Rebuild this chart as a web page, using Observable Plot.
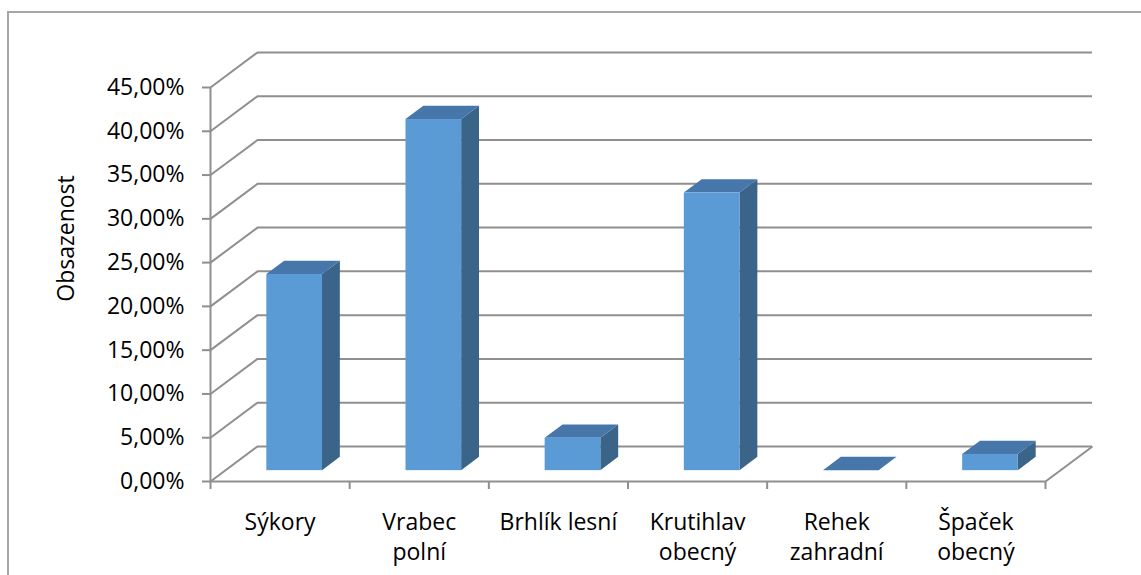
<!DOCTYPE html>
<html>
<head>
<meta charset="utf-8">
<script src="https://cdn.jsdelivr.net/npm/d3@7"></script>
<script src="https://cdn.jsdelivr.net/npm/@observablehq/plot@0.6"></script>
<style>
  html, body { margin: 0; padding: 0; background: #fff; }
  #wrap { position: relative; width: 1141px; height: 575px; overflow: hidden; }
  #border { position: absolute; left: 7px; top: 11px; right: -10px; bottom: -10px;
            border-left: 2px solid #a6a6a6; border-top: 2px solid #a6a6a6; pointer-events: none; }
</style>
</head>
<body>
<div id="wrap"><div id="border"></div></div>
<script>
// Data
const categories = ["Sýkory", "Vrabec polní", "Brhlík lesní", "Krutihlav obecný", "Rehek zahradní", "Špaček obecný"];
const categoryLabels = ["Sýkory", "Vrabec\npolní", "Brhlík lesní", "Krutihlav\nobecný", "Rehek\nzahradní", "Špaček\nobecný"];
const values = [22.4, 40.1, 3.7, 31.7, 0, 1.85];
const yTicks = [0, 5, 10, 15, 20, 25, 30, 35, 40, 45];
const yTitle = "Obsazenost";

// 3D geometry (in scale units)
const D = 0.3377;   // depth offset along x (category units)
const DY = 4.0;     // depth offset along y (percent units)
const f1 = 0.31, f2 = 0.69; // bar front / back depth fraction
const hw = 0.2;     // bar half width

const bars = categories.map((c, i) => ({c, i, v: values[i], cx: i + 0.5}));

const sidePts = bars.flatMap(b => [
  {z: b.c, x: b.cx + hw + f1 * D, y1: f1 * DY, y2: b.v + f1 * DY},
  {z: b.c, x: b.cx + hw + f2 * D, y1: f2 * DY, y2: b.v + f2 * DY}
]);
const topPts = bars.flatMap(b => [
  {z: b.c, y: b.v + f1 * DY, x1: b.cx - hw + f1 * D, x2: b.cx + hw + f1 * D},
  {z: b.c, y: b.v + f2 * DY, x1: b.cx - hw + f2 * D, x2: b.cx + hw + f2 * D}
]);

const grid = "#8f8f8f";
const fs = 23;
const fmt = d => d.toFixed(2).replace(".", ",") + "%";
const bounds = d3.range(categories.length + 1);

const chart = Plot.plot({
  width: 1141,
  height: 575,
  marginLeft: 210,
  marginRight: 96,
  marginTop: 87,
  marginBottom: 94,
  style: {fontFamily: "'Open Sans', sans-serif", fontSize: fs + "px", color: "#000", background: "transparent"},
  x: {domain: [0, categories.length], axis: null},
  y: {domain: [0, 45], axis: null},
  marks: [
    // back wall gridlines
    Plot.ruleY(yTicks, {y: d => d + DY, x1: D, x2: categories.length + D, stroke: grid, strokeWidth: 2}),
    // left wall diagonals
    Plot.link(yTicks, {x1: 0, y1: d => d, x2: D, y2: d => d + DY, stroke: grid, strokeWidth: 2}),
    // floor edges
    Plot.ruleY([0], {x1: 0, x2: categories.length, stroke: grid, strokeWidth: 2}),
    Plot.link([0], {x1: categories.length, y1: 0, x2: categories.length + D, y2: DY, stroke: grid, strokeWidth: 2}),
    // front vertical axis
    Plot.ruleX([0], {y1: 0, y2: 45, stroke: grid, strokeWidth: 2}),
    Plot.axisY({ticks: yTicks, tickFormat: fmt, tickSize: 8, tickPadding: 18, stroke: grid, strokeWidth: 2, fill: "#000", fontSize: fs, label: null}),
    Plot.axisX({ticks: bounds, tickSize: 8, tickFormat: () => "", stroke: grid, strokeWidth: 2, label: null}),
    // bars: side, top, front
    Plot.areaY(sidePts, {x: "x", y1: "y1", y2: "y2", z: "z", fill: "#3b6489"}),
    Plot.areaX(topPts, {y: "y", x1: "x1", x2: "x2", z: "z", fill: "#4776aa"}),
    Plot.rect(bars, {x1: d => d.cx - hw + f1 * D, x2: d => d.cx + hw + f1 * D, y1: f1 * DY, y2: d => d.v + f1 * DY, fill: "#5b9bd5"}),
    // category labels
    Plot.text(bars, {x: "cx", frameAnchor: "bottom", text: (d, i) => categoryLabels[i], lineAnchor: "top", dy: 27.5, lineHeight: 30 / fs, fontSize: fs, fill: "#000"}),
    // y title
    Plot.text([yTitle], {frameAnchor: "left", dx: -144, dy: -46, rotate: -90, textAnchor: "middle", lineAnchor: "middle", fontSize: fs, fill: "#000"})
  ]
});
chart.style.position = "absolute";
chart.style.left = "0px";
chart.style.top = "0px";
document.getElementById("wrap").appendChild(chart);
</script>
</body>
</html>
